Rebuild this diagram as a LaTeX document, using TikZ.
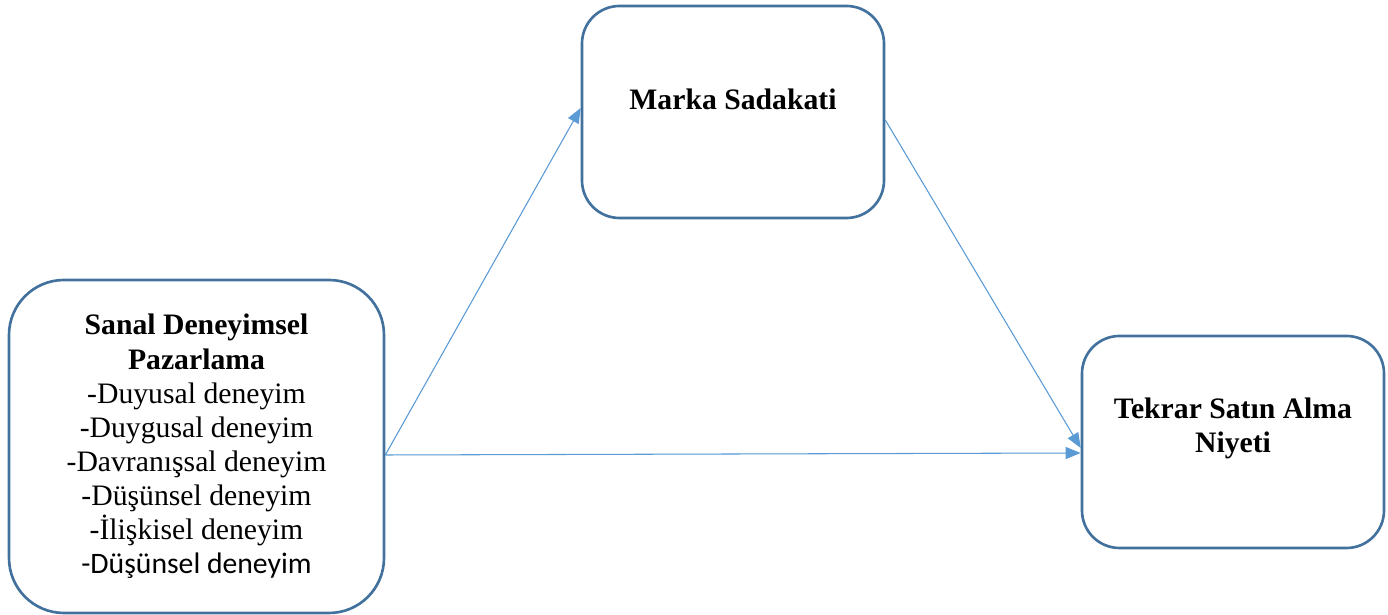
\documentclass[tikz,border=0pt]{standalone}
\usepackage{fontspec}
\setmainfont{Liberation Serif}
\newfontfamily\calibrifont{Carlito}
\usetikzlibrary{arrows.meta, positioning}
\definecolor{boxline}{HTML}{41719C}
\definecolor{arrowline}{HTML}{5B9BD5}

\begin{document}
\begin{tikzpicture}[
    >={Triangle[length=0.3cm, width=0.24cm]},
    modelbox/.style={draw=boxline, line width=1.5pt, rounded corners=0.75cm,
        align=center, inner sep=0pt, minimum width=6.04cm, minimum height=4.24cm,
        font=\fontsize{16.9}{19.4}\selectfont},
    path/.style={->, draw=arrowline, fill=arrowline, line width=0.6pt}
]
    \useasboundingbox (0,0) rectangle (27.76,12.3);

    % Draw independent variable box
    \node[modelbox, rounded corners=1.1cm, minimum width=7.5cm, minimum height=6.66cm] (sdp) at (3.93,3.37)
        {\textbf{Sanal Deneyimsel}\\\textbf{Pazarlama}\\-Duyusal deneyim\\-Duygusal deneyim\\-Davranışsal deneyim\\-Düşünsel deneyim\\-İlişkisel deneyim\\{\calibrifont -Düşünsel deneyim}};
    % Draw mediator box
    \node[modelbox, label={[yshift=0.26cm, font=\fontsize{16.9}{19.4}\selectfont\bfseries]center:Marka Sadakati}] (ms) at (14.66,10.06) {};
    % Draw dependent variable box
    \node[modelbox, label={[yshift=0.28cm, align=center, font=\fontsize{16.9}{19.4}\selectfont\bfseries]center:Tekrar Satın Alma\\Niyeti}] (tsan) at (24.66,3.46) {};

    % Draw paths
    \draw[path] ([yshift=-0.17cm]sdp.east) -- ([yshift=0.08cm]ms.west);
    \draw[path] ([yshift=-0.16cm]ms.east) -- ([yshift=-0.12cm]tsan.west);
    \draw[path] ([yshift=-0.17cm]sdp.east) -- ([yshift=-0.22cm]tsan.west);

\end{tikzpicture}
\end{document}
